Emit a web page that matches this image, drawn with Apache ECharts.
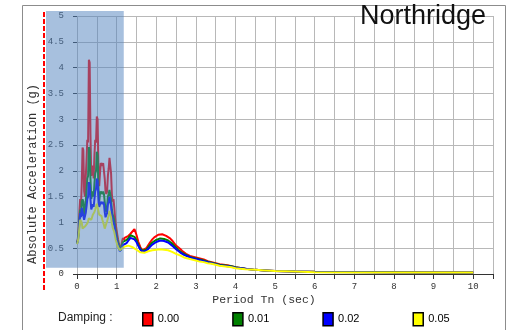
<!DOCTYPE html>
<html>
<head>
<meta charset="utf-8">
<script src="https://cdn.jsdelivr.net/npm/echarts@6/dist/echarts.min.js"></script>
<style>
  html, body { margin: 0; padding: 0; background: #fff; }
  #chart { width: 511px; height: 330px; }
</style>
</head>
<body>
<div id="chart"></div>
<script>
// Response spectrum, Northridge record: periods (sec) and absolute acceleration (g)
const periods = [
  0, 0.02, 0.04, 0.06, 0.08, 0.10, 0.12, 0.14, 0.16, 0.18,
  0.20, 0.22, 0.24, 0.26, 0.28, 0.30, 0.32, 0.34, 0.36, 0.38,
  0.40, 0.42, 0.44, 0.46, 0.48, 0.50, 0.52, 0.54, 0.56, 0.58,
  0.60, 0.62, 0.64, 0.66, 0.68, 0.70, 0.72, 0.74, 0.76, 0.78,
  0.80, 0.82, 0.84, 0.86, 0.88, 0.90, 0.92, 0.94, 0.96, 0.98,
  1.00, 1.02, 1.04, 1.06, 1.08, 1.10, 1.12, 1.14, 1.16, 1.18, 1.20,
  1.25, 1.30, 1.35, 1.40, 1.45, 1.50, 1.55, 1.60, 1.65, 1.70,
  1.75, 1.80, 1.85, 1.90, 1.95, 2.00, 2.05, 2.10, 2.15, 2.20,
  2.25, 2.30, 2.35, 2.40, 2.45, 2.50, 2.55, 2.60, 2.65, 2.70,
  2.75, 2.80, 2.85, 2.90, 2.95, 3.00,
  3.10, 3.20, 3.30, 3.40, 3.50, 3.60, 3.70, 3.80, 3.90, 4.00,
  4.25, 4.50, 4.75, 5.00, 5.50, 6.00, 7.00, 8.00, 9.00, 10.00
];

const damping000 = [
  0.60, 0.68, 0.85, 1.20, 1.45, 1.30, 1.75, 2.45, 2.40, 1.60,
  1.50, 1.85, 2.20, 2.60, 2.55, 4.15, 4.10, 2.70, 1.90, 2.00,
  2.10, 1.85, 2.30, 2.60, 2.55, 3.05, 3.00, 2.10, 1.70, 1.95,
  2.15, 2.12, 2.10, 2.15, 2.12, 1.85, 1.60, 1.55, 1.60, 1.90,
  2.05, 2.25, 2.22, 1.95, 1.55, 1.40, 1.45, 1.30, 1.10, 0.95,
  0.85, 0.75, 0.66, 0.58, 0.52, 0.47, 0.56, 0.64, 0.70, 0.66, 0.70,
  0.72, 0.74, 0.78, 0.80, 0.87, 0.76, 0.62, 0.52, 0.46, 0.46,
  0.50, 0.56, 0.62, 0.67, 0.71, 0.74, 0.76, 0.77, 0.77, 0.76,
  0.74, 0.72, 0.69, 0.65, 0.60, 0.55, 0.52, 0.49, 0.45, 0.42,
  0.39, 0.37, 0.35, 0.34, 0.33, 0.32,
  0.30, 0.28, 0.25, 0.23, 0.21, 0.19, 0.18, 0.17, 0.15, 0.13,
  0.10, 0.08, 0.07, 0.06, 0.05, 0.045, 0.04, 0.035, 0.03, 0.03
];

const damping001 = [
  0.60, 0.66, 0.80, 1.05, 1.25, 1.15, 1.40, 1.45, 1.40, 1.15,
  1.20, 1.40, 1.60, 1.85, 1.90, 2.46, 2.40, 1.85, 1.45, 1.55,
  1.60, 1.50, 1.75, 1.95, 2.00, 2.37, 2.30, 1.70, 1.40, 1.55,
  1.60, 1.58, 1.55, 1.60, 1.55, 1.40, 1.25, 1.20, 1.30, 1.50,
  1.55, 1.63, 1.60, 1.45, 1.25, 1.15, 1.18, 1.05, 0.92, 0.82,
  0.74, 0.66, 0.60, 0.54, 0.49, 0.45, 0.52, 0.58, 0.62, 0.60, 0.63,
  0.66, 0.70, 0.75, 0.74, 0.72, 0.66, 0.56, 0.49, 0.45, 0.44,
  0.47, 0.52, 0.57, 0.61, 0.64, 0.66, 0.68, 0.69, 0.69, 0.68,
  0.67, 0.65, 0.62, 0.59, 0.55, 0.51, 0.47, 0.44, 0.41, 0.39,
  0.37, 0.35, 0.33, 0.32, 0.31, 0.30,
  0.28, 0.26, 0.24, 0.22, 0.20, 0.18, 0.17, 0.16, 0.15, 0.13,
  0.10, 0.08, 0.07, 0.06, 0.05, 0.045, 0.04, 0.035, 0.03, 0.03
];

const damping002 = [
  0.58, 0.63, 0.75, 0.98, 1.18, 1.10, 1.28, 1.30, 1.25, 1.05,
  1.05, 1.18, 1.30, 1.45, 1.50, 1.78, 1.72, 1.45, 1.25, 1.30,
  1.35, 1.30, 1.45, 1.60, 1.65, 1.85, 1.80, 1.50, 1.30, 1.35,
  1.40, 1.38, 1.36, 1.40, 1.36, 1.20, 1.10, 1.08, 1.18, 1.35,
  1.40, 1.50, 1.47, 1.32, 1.15, 1.05, 1.08, 0.95, 0.85, 0.76,
  0.68, 0.61, 0.55, 0.49, 0.44, 0.41, 0.47, 0.52, 0.56, 0.55, 0.58,
  0.60, 0.65, 0.70, 0.69, 0.67, 0.62, 0.54, 0.47, 0.43, 0.42,
  0.45, 0.49, 0.53, 0.57, 0.60, 0.62, 0.64, 0.65, 0.65, 0.64,
  0.63, 0.61, 0.58, 0.55, 0.52, 0.48, 0.45, 0.42, 0.39, 0.37,
  0.35, 0.34, 0.32, 0.31, 0.30, 0.29,
  0.27, 0.25, 0.23, 0.21, 0.19, 0.17, 0.16, 0.15, 0.14, 0.12,
  0.10, 0.08, 0.07, 0.06, 0.05, 0.04, 0.035, 0.03, 0.03, 0.03
];

const damping005 = [
  0.58, 0.62, 0.72, 0.90, 1.05, 1.08, 1.00, 0.88, 0.85, 0.88,
  0.92, 0.95, 0.95, 0.98, 1.02, 1.08, 1.10, 1.06, 1.05, 1.10,
  1.15, 1.12, 1.20, 1.25, 1.28, 1.36, 1.34, 1.22, 1.15, 1.18,
  1.18, 1.12, 1.05, 1.00, 0.95, 0.88, 0.90, 0.98, 1.02, 1.08,
  1.14, 1.22, 1.20, 1.10, 0.98, 0.90, 0.88, 0.82, 0.74, 0.66,
  0.61, 0.56, 0.52, 0.49, 0.46, 0.45, 0.47, 0.50, 0.52, 0.52, 0.53,
  0.54, 0.55, 0.54, 0.52, 0.50, 0.47, 0.44, 0.42, 0.41, 0.41,
  0.42, 0.44, 0.45, 0.46, 0.47, 0.47, 0.48, 0.48, 0.48, 0.47,
  0.47, 0.46, 0.45, 0.43, 0.41, 0.39, 0.37, 0.36, 0.34, 0.32,
  0.31, 0.30, 0.29, 0.28, 0.27, 0.26,
  0.24, 0.23, 0.21, 0.20, 0.18, 0.16, 0.15, 0.14, 0.13, 0.11,
  0.09, 0.08, 0.07, 0.06, 0.05, 0.035, 0.03, 0.03, 0.03, 0.03
];

const seriesNames = ['0.00', '0.01', '0.02', '0.05'];
const seriesColors = ['#ff0000', '#008000', '#0000ff', '#ffff00'];
const seriesValues = [damping000, damping001, damping002, damping005];

const xTickLabels = ['0', '1', '2', '3', '4', '5', '6', '7', '8', '9', '10'];
const yTickLabels = ['0', '0.5', '1', '1.5', '2', '2.5', '3', '3.5', '4', '4.5', '5'];

// Highlighted short-period window (sec) and its lower edge (g)
const windowEnd = 1.18;
const windowFloor = 0.12;

const mono = 'Liberation Mono';
const sans = 'Liberation Sans';

const chart = echarts.init(document.getElementById('chart'), null, { renderer: 'canvas' });

const series = seriesNames.map((name, i) => ({
  name,
  type: 'line',
  data: periods.map((t, k) => [t, seriesValues[i][k]]),
  showSymbol: false,
  symbol: 'none',
  color: seriesColors[i],
  lineStyle: { color: seriesColors[i], width: 2 },
  z: 2 + i,
  animation: false
}));

chart.setOption({
  animation: false,
  grid: { left: 77, right: 18, top: 16, bottom: 56 },
  xAxis: {
    type: 'value',
    min: 0,
    max: 10.5,
    interval: 0.5,
    axisLine: { show: true, lineStyle: { color: '#333', width: 1 } },
    axisTick: { show: true, length: 5, lineStyle: { color: '#333' } },
    axisLabel: {
      margin: 8,
      fontFamily: mono,
      fontSize: 9,
      color: '#333',
      formatter: v => {
        const idx = xTickLabels.indexOf(String(v));
        return idx >= 0 ? xTickLabels[idx] : '';
      }
    },
    splitLine: { show: true, lineStyle: { color: '#b8b8b8', width: 1 } }
  },
  yAxis: {
    type: 'value',
    min: 0,
    max: 5,
    interval: 0.5,
    axisLine: { show: false },
    axisTick: { show: true, length: 4, lineStyle: { color: '#333' } },
    axisLabel: {
      margin: 13,
      fontFamily: mono,
      fontSize: 9,
      color: '#333',
      formatter: v => {
        const idx = yTickLabels.indexOf(String(v));
        return idx >= 0 ? yTickLabels[idx] : '';
      }
    },
    splitLine: { show: true, lineStyle: { color: '#b8b8b8', width: 1 } }
  },
  legend: {
    data: seriesNames,
    left: 142,
    top: 312,
    padding: 0,
    icon: 'rect',
    itemWidth: 10,
    itemHeight: 13,
    itemGap: 53,
    itemStyle: { borderColor: '#000', borderWidth: 1.5 },
    textStyle: { fontFamily: sans, fontSize: 11, color: '#000' },
    selectedMode: false
  },
  series
});

const px = chart.convertToPixel({ xAxisIndex: 0 }, windowEnd);
const py = chart.convertToPixel({ yAxisIndex: 0 }, windowFloor);

chart.setOption({
  graphic: [
    {
      type: 'rect',
      shape: { x: 22.5, y: 5.5, width: 483, height: 340 },
      style: { fill: 'none', stroke: '#8c8c8c', lineWidth: 1 },
      z: 0, silent: true
    },
    {
      type: 'rect',
      shape: { x: 46, y: 11, width: px - 46, height: py - 11 },
      style: { fill: 'rgba(79,129,189,0.5)' },
      z: 100, silent: true
    },
    {
      type: 'line',
      shape: { x1: 44, y1: 12, x2: 44, y2: 290 },
      style: { stroke: '#ff0000', lineWidth: 2, lineDash: [5, 2] },
      z: 101, silent: true
    },
    {
      type: 'text',
      x: 360, y: 3,
      style: { text: 'Northridge', fontFamily: sans, fontSize: 27, fill: '#111' },
      z: 102, silent: true
    },
    {
      type: 'text',
      x: 33, y: 174,
      rotation: Math.PI / 2,
      style: {
        text: 'Absolute Acceleration (g)', fontFamily: mono, fontSize: 12,
        fill: '#333', align: 'center', verticalAlign: 'middle'
      },
      z: 102, silent: true
    },
    {
      type: 'text',
      x: 264, y: 300,
      style: {
        text: 'Period Tn (sec)', fontFamily: mono, fontSize: 11.5,
        fill: '#333', align: 'center', verticalAlign: 'middle'
      },
      z: 102, silent: true
    },
    {
      type: 'text',
      x: 58, y: 318,
      style: {
        text: 'Damping :', fontFamily: sans, fontSize: 12,
        fill: '#222', align: 'left', verticalAlign: 'middle'
      },
      z: 102, silent: true
    }
  ]
});
</script>
</body>
</html>
